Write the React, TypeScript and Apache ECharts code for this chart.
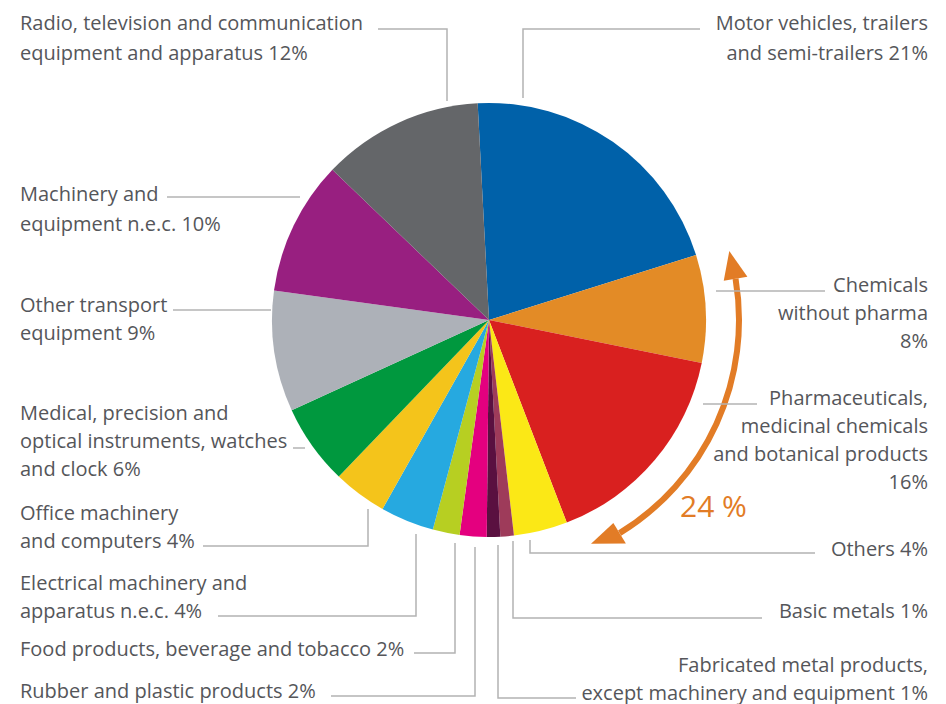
import React, { useEffect, useRef } from "react";
import * as echarts from "echarts";

// ---- data (clockwise from the top) ----
const categories = [
  "Motor vehicles, trailers and semi-trailers",
  "Chemicals without pharma",
  "Pharmaceuticals, medicinal chemicals and botanical products",
  "Others",
  "Basic metals",
  "Fabricated metal products, except machinery and equipment",
  "Rubber and plastic products",
  "Food products, beverage and tobacco",
  "Electrical machinery and apparatus n.e.c.",
  "Office machinery and computers",
  "Medical, precision and optical instruments, watches and clock",
  "Other transport equipment",
  "Machinery and equipment n.e.c.",
  "Radio, television and communication equipment and apparatus",
];
const values = [21, 8, 16, 4, 1, 1, 2, 2, 4, 4, 6, 9, 10, 12];
const labelPrefixes = [
  "Motor vehicles, trailers\nand semi-trailers ",
  "Chemicals\nwithout pharma\n",
  "Pharmaceuticals,\nmedicinal chemicals\nand botanical products\n",
  "Others ",
  "Basic metals ",
  "Fabricated metal products,\nexcept machinery and equipment ",
  "Rubber and plastic products ",
  "Food products, beverage and tobacco ",
  "Electrical machinery and\napparatus n.e.c. ",
  "Office machinery\nand computers ",
  "Medical, precision and\noptical instruments, watches\nand clock ",
  "Other transport\nequipment ",
  "Machinery and\nequipment n.e.c. ",
  "Radio, television and communication\nequipment and apparatus ",
];
const colors = [
  "#0061a9",
  "#e38b26",
  "#d9201f",
  "#fbe816",
  "#9e3b5a",
  "#5a1040",
  "#e4007f",
  "#b7cf22",
  "#26a9e0",
  "#f4c41b",
  "#00983e",
  "#adb1b8",
  "#981f80",
  "#646669",
];
// the bracketed group: Chemicals + Pharmaceuticals
const groupIndices = [1, 2];

// ---- layout (positions only) ----
const CX = 489;
const CY = 320;
const R = 217;
const START_ANGLE = 93;

type LabelPos = { x: number; y: number; align: "left" | "right"; lh: number; line: number[][] };
const labelPos: LabelPos[] = [
  { x: 928, y: 7, align: "right", lh: 30, line: [[523, 98], [523, 29], [700, 29]] },
  { x: 928, y: 270, align: "right", lh: 28, line: [[716, 291], [770, 291], [825, 291]] },
  { x: 928, y: 383, align: "right", lh: 28, line: [[703, 404], [730, 404], [757, 404]] },
  { x: 928, y: 534, align: "right", lh: 28, line: [[530, 540], [530, 553], [815, 553]] },
  { x: 928, y: 596, align: "right", lh: 28, line: [[513, 541], [513, 618], [762, 618]] },
  { x: 928, y: 650, align: "right", lh: 28, line: [[498, 545], [498, 698], [576, 698]] },
  { x: 20, y: 676, align: "left", lh: 28, line: [[475, 547], [475, 696], [331, 696]] },
  { x: 20, y: 634, align: "left", lh: 28, line: [[455, 543], [455, 653], [414, 653]] },
  { x: 20, y: 568, align: "left", lh: 28, line: [[416, 534], [416, 616], [218, 616]] },
  { x: 20, y: 498, align: "left", lh: 28, line: [[368, 509], [368, 546], [203, 546]] },
  { x: 20, y: 398, align: "left", lh: 28, line: [[305, 448], [299, 448], [293, 448]] },
  { x: 20, y: 290, align: "left", lh: 28, line: [[271, 310], [222, 310], [173, 310]] },
  { x: 20, y: 178, align: "left", lh: 30, line: [[300, 197], [234, 197], [167, 197]] },
  { x: 20, y: 7, align: "left", lh: 30, line: [[447, 101], [447, 29], [378, 29]] },
];

function polar(r: number, deg: number): number[] {
  const a = (deg * Math.PI) / 180;
  return [CX + r * Math.cos(a), CY - r * Math.sin(a)];
}

export default function App() {
  const ref = useRef<HTMLDivElement>(null);
  useEffect(() => {
    if (!ref.current) return;
    const chart = echarts.init(ref.current, null, { renderer: "svg" });

    const AR = 250;
    const topTip = 16;
    const topBase = 9.5;
    const botTip = -65.5;
    const botBase = -58.5;
    const hw = 12;
    const orange = "#e27c26";
    const groupTotal = groupIndices.reduce((s, i) => s + values[i], 0);

    chart.setOption({
      animation: false,
      backgroundColor: "#ffffff",
      series: [
        {
          type: "pie",
          center: [CX, CY],
          radius: R,
          startAngle: START_ANGLE,
          clockwise: true,
          silent: true,
          avoidLabelOverlap: false,
          emphasis: { disabled: true },
          itemStyle: { borderWidth: 0 },
          data: categories.map((name, i) => ({
            name,
            value: values[i],
            itemStyle: { color: colors[i] },
            label: { lineHeight: labelPos[i].lh },
          })),
          label: {
            show: true,
            position: "outside",
            color: "#55565a",
            fontFamily: "Open Sans",
            fontSize: 20,
            lineHeight: 28,
            formatter: (p: any) => labelPrefixes[p.dataIndex] + p.value + "%",
          },
          labelLine: {
            show: true,
            smooth: false,
            lineStyle: { color: "#b3b3b3", width: 1.5 },
          },
          labelLayout: (p: any) => {
            const lp = labelPos[p.dataIndex];
            return {
              x: lp.x,
              y: lp.y,
              align: lp.align,
              verticalAlign: "top",
              labelLinePoints: lp.line,
            };
          },
        },
      ],
      graphic: [
        {
          type: "arc",
          silent: true,
          shape: {
            cx: CX,
            cy: CY,
            r: AR,
            startAngle: (-topBase * Math.PI) / 180,
            endAngle: (-botBase * Math.PI) / 180,
            clockwise: true,
          },
          style: { stroke: orange, lineWidth: 6, fill: null },
        },
        {
          type: "polygon",
          silent: true,
          shape: { points: [polar(AR, topTip), polar(AR - hw, topBase), polar(AR + hw, topBase)] },
          style: { fill: orange },
        },
        {
          type: "polygon",
          silent: true,
          shape: { points: [polar(AR - 4, botTip), polar(AR - hw, botBase), polar(AR + hw, botBase)] },
          style: { fill: orange },
        },
        {
          type: "text",
          silent: true,
          x: 680,
          y: 490,
          style: {
            text: groupTotal + " %",
            fill: orange,
            fontFamily: "Open Sans",
            fontSize: 30,
            textAlign: "left",
            textVerticalAlign: "top",
          },
        },
      ],
    });
    return () => chart.dispose();
  }, []);
  return (
    <div
      ref={ref}
      style={{ position: "absolute", left: 0, top: 0, width: 946, height: 704 }}
    />
  );
}
